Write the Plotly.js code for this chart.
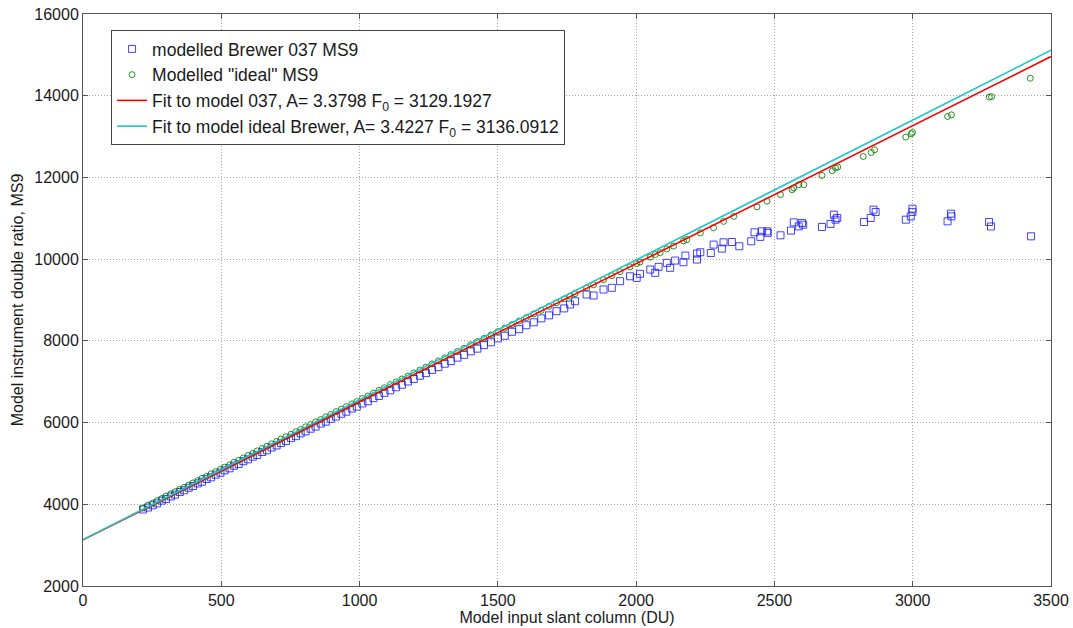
<!DOCTYPE html>
<html>
<head>
<meta charset="utf-8">
<script src="https://cdn.plot.ly/plotly-3.0.1.min.js"></script>
<style>html,body{margin:0;padding:0;background:#fff;}#chart{width:1073px;height:628px;}</style>
</head>
<body>
<div id="chart"></div>
<script>
// Modelled Brewer 037 MS9 (blue squares)
const xBrewer037 = [217,235,252,268,285,300,318,333,350,366,382,398,415,430,447,463,480,497,512,530,546,563,580,597,614,630,648,665,682,700,716,734,752,770,787,805,823,841,860,878,896,915,934,952,972,990,1010,1030,1050,1070,1090,1111,1132,1153,1175,1196,1218,1240,1262,1285,1308,1330,1354,1378,1402,1426,1450,1475,1500,1525,1551,1577,1603,1630,1657,1685,1712,1740,1761,1779,1821,1846,1882,1912,1942,1978,2002,2014,2051,2069,2081,2111,2123,2141,2171,2178,2220,2220,2232,2270,2280,2310,2316,2346,2373,2416,2428,2449,2455,2474,2476,2522,2560,2570,2588,2600,2604,2672,2703,2715,2721,2727,2824,2848,2858,2866,2975,2993,2999,2999,3126,3138,3140,3276,3283,3428];
const yBrewer037 = [3872,3920,3975,4022,4090,4128,4192,4236,4300,4342,4405,4448,4510,4552,4618,4660,4725,4772,4830,4880,4945,4988,5055,5100,5165,5208,5280,5322,5390,5440,5498,5550,5620,5667,5735,5785,5850,5902,5976,6022,6092,6147,6216,6267,6344,6390,6468,6521,6598,6651,6728,6789,6865,6926,7006,7067,7146,7210,7290,7357,7440,7504,7590,7657,7743,7809,7895,7965,8059,8124,8222,8285,8382,8454,8550,8624,8726,8795,8890,8970,9134,9110,9257,9298,9460,9581,9542,9641,9745,9665,9811,9909,9787,9965,9924,10087,9990,10136,10168,10151,10356,10258,10412,10420,10315,10437,10657,10545,10681,10681,10642,10583,10698,10900,10802,10886,10844,10788,10862,11089,10966,11008,10910,11008,11211,11155,10966,11047,11235,11155,10925,11113,11047,10910,10800,10559];

// Modelled "ideal" MS9 (green circles)
const xIdeal = [217,235,252,268,285,300,318,333,350,366,382,398,415,430,447,463,480,497,512,530,546,563,580,597,614,630,648,665,682,700,716,734,752,770,787,805,823,841,860,878,896,915,934,952,972,990,1010,1030,1050,1070,1090,1111,1132,1153,1175,1196,1218,1240,1262,1285,1308,1330,1354,1378,1402,1426,1450,1475,1500,1525,1551,1577,1603,1630,1657,1685,1712,1740,1761,1779,1821,1846,1882,1912,1942,1978,2002,2014,2051,2069,2087,2111,2135,2171,2183,2232,2280,2316,2353,2437,2473,2522,2564,2570,2588,2606,2672,2709,2721,2729,2821,2850,2862,2975,2995,2999,3126,3140,3277,3285,3425];
const yIdeal = [3909,3975,4029,4088,4141,4198,4254,4306,4364,4414,4473,4523,4581,4633,4686,4746,4799,4857,4908,4965,5025,5078,5136,5194,5248,5307,5364,5422,5480,5537,5597,5653,5715,5776,5830,5896,5953,6014,6074,6141,6198,6268,6328,6389,6458,6514,6588,6651,6720,6788,6852,6929,6996,7067,7138,7215,7285,7355,7435,7509,7583,7663,7740,7817,7905,7982,8059,8145,8225,8311,8395,8484,8568,8660,8747,8843,8931,9027,9093,9155,9294,9374,9498,9595,9693,9811,9893,9929,10051,10113,10160,10251,10320,10447,10480,10642,10770,10925,11047,11280,11420,11580,11700,11741,11822,11822,12049,12164,12230,12255,12513,12611,12677,12987,13068,13099,13491,13532,13965,13979,14429];

// Linear fits: y = A*x + F0
const fitNames = ['Fit to model 037, A= 3.3798 F<sub>0</sub> = 3129.1927',
                  'Fit to model ideal Brewer, A= 3.4227 F<sub>0</sub> = 3136.0912'];
const fitA = [3.3798, 3.4227];
const fitF0 = [3129.1927, 3136.0912];
const fitX = [0, 3500];
const fitColors = ['#ff0000', '#1ec8c8'];

const traces = [
  {x: xBrewer037, y: yBrewer037, type: 'scatter', mode: 'markers',
   name: 'modelled Brewer 037 MS9',
   marker: {symbol: 'square-open', size: 7, color: 'rgba(20,20,255,0.8)', line: {width: 1}}},
  {x: xIdeal, y: yIdeal, type: 'scatter', mode: 'markers',
   name: 'Modelled "ideal" MS9',
   marker: {symbol: 'circle-open', size: 6, color: 'rgba(0,128,0,0.85)', line: {width: 1}}}
];
for (let i = 0; i < fitA.length; i++) {
  traces.push({x: fitX, y: fitX.map(v => fitA[i] * v + fitF0[i]), type: 'scatter', mode: 'lines',
    name: fitNames[i], line: {color: fitColors[i], width: 1.6}});
}

const axisCommon = {
  showline: true, linecolor: '#555', linewidth: 1, mirror: 'ticks',
  ticks: 'inside', ticklen: 5, tickcolor: '#555',
  showgrid: true, gridcolor: '#a8a8a8', griddash: '1px,2px', gridwidth: 1,
  zeroline: false, tickfont: {size: 16, color: '#1a1a1a'},
  tickformat: 'd', separatethousands: false, exponentformat: 'none'
};

const layout = {
  width: 1073, height: 628,
  margin: {l: 83, r: 22, t: 14, b: 42},
  paper_bgcolor: '#fff', plot_bgcolor: '#fff',
  font: {family: '"Liberation Sans", Arial, sans-serif', color: '#1a1a1a'},
  showlegend: true,
  legend: {x: 0.029, y: 0.972, xanchor: 'left', yanchor: 'top',
    bgcolor: '#fff', bordercolor: '#444', borderwidth: 1,
    font: {size: 17.5, color: '#1a1a1a'}, itemwidth: 30, tracegroupgap: 0},
  xaxis: Object.assign({}, axisCommon, {range: [0, 3500], dtick: 500, tick0: 0,
    title: {text: 'Model input slant column (DU)', font: {size: 16}, standoff: 0}}),
  yaxis: Object.assign({}, axisCommon, {range: [2000, 16000], dtick: 2000, tick0: 0,
    title: {text: 'Model instrument double ratio, MS9', font: {size: 16}, standoff: 6}})
};

Plotly.newPlot('chart', traces, layout, {displayModeBar: false, staticPlot: true});
</script>
</body>
</html>
